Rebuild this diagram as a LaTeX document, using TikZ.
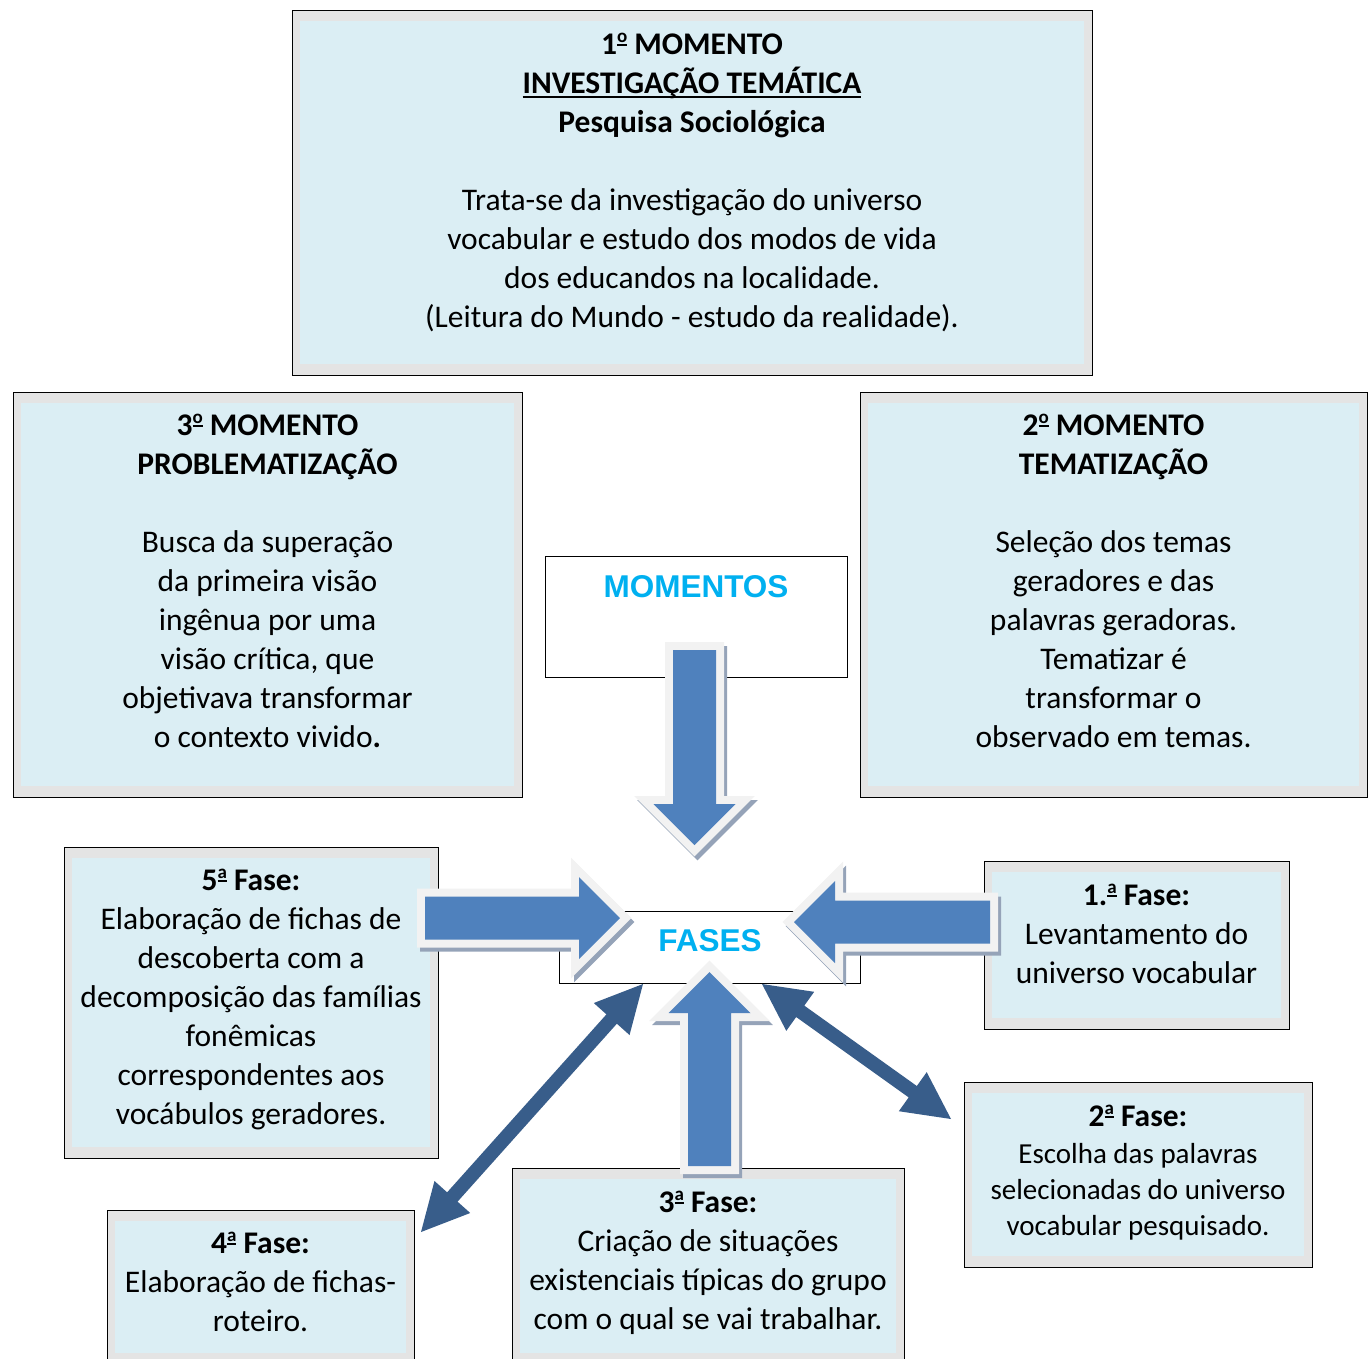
\documentclass[tikz,border=0pt]{standalone}
\usepackage{fontspec}
\setmainfont{Carlito}
\newfontfamily\headfont{Liberation Sans}
\usetikzlibrary{calc}
\usetikzlibrary{positioning}

\definecolor{bandgray}{HTML}{E4E4E4}
\definecolor{innerblue}{HTML}{DBEEF4}
\definecolor{arrowblue}{HTML}{4F81BD}
\definecolor{arrowrim}{HTML}{F2F2F2}
\definecolor{arrowshade}{HTML}{95A3B8}
\definecolor{linkblue}{HTML}{385D8A}
\definecolor{titlecyan}{HTML}{00B0F0}

\newcommand{\thickul}[1]{\setbox0\hbox{#1}\rlap{\rule[-5pt]{\wd0}{2.4pt}}\box0}
% ordinal sign with bar (a / o)
\newcommand{\ordsign}[1]{\raisebox{12pt}{\setbox2\hbox{\fontsize{19}{19}\selectfont #1}\rlap{\rule[-3.5pt]{\wd2}{1.8pt}}\box2}}

% block arrow, tail #1, tip #2
\newcommand{\blockarrow}[2]{%
  \coordinate (hb) at ($(#2)!41pt!(#1)$);
  \coordinate (p1) at ($(#1)!21.5pt!90:(#2)$);
  \coordinate (p2) at ($(hb)!21.5pt!90:(#2)$);
  \coordinate (p3) at ($(hb)!41pt!90:(#2)$);
  \coordinate (p4) at ($(hb)!41pt!-90:(#2)$);
  \coordinate (p5) at ($(hb)!21.5pt!-90:(#2)$);
  \coordinate (p6) at ($(#1)!21.5pt!-90:(#2)$);
  \foreach \sty in {arrowshadow,arrowedge,arrowfill}
    \path[\sty] (p1) -- (p2) -- (p3) -- (#2) -- (p4) -- (p5) -- (p6) -- cycle;
}

% double headed arrow between #1 and #2
\newcommand{\twowayarrow}[2]{%
  \coordinate (ha) at ($(#1)!47pt!(#2)$);
  \coordinate (hz) at ($(#2)!47pt!(#1)$);
  \fill[linkblue] (#1) -- ($(ha)!24pt!90:(#2)$) -- ($(ha)!7pt!90:(#2)$)
    -- ($(hz)!7pt!90:(#2)$) -- ($(hz)!24pt!90:(#2)$) -- (#2)
    -- ($(hz)!24pt!-90:(#2)$) -- ($(hz)!7pt!-90:(#2)$)
    -- ($(ha)!7pt!-90:(#2)$) -- ($(ha)!24pt!-90:(#2)$) -- cycle;
}

\tikzset{
  stagebox/.style={draw=black,line width=1pt,fill=bandgray,inner sep=0pt,
    path picture={\fill[innerblue] ([xshift=8pt,yshift=-11pt]path picture bounding box.north west)
      rectangle ([xshift=-8pt,yshift=11pt]path picture bounding box.south east);}},
  plainbox/.style={draw=black,line width=1pt,fill=white,inner sep=0pt},
  boxtext/.style={inner sep=0pt,align=center,font=\fontsize{31.5}{39}\selectfont},
  smalltext/.style={inner sep=0pt,align=center,font=\fontsize{29}{36}\selectfont},
  headtext/.style={inner sep=0pt,text=titlecyan,font=\headfont\bfseries\fontsize{31.5}{38}\selectfont},
  arrowshadow/.style={draw=arrowshade,fill=arrowshade,line width=16pt,line join=miter,
    transform canvas={shift={(3pt,-4pt)}}},
  arrowedge/.style={draw=arrowrim,fill=arrowrim,line width=16pt,line join=miter},
  arrowfill/.style={fill=arrowblue}
}

\begin{document}
\begin{tikzpicture}[x=1pt,y=-1pt]
\useasboundingbox (0,0) rectangle (1370,1358);
\clip (0,0) rectangle (1370,1358);

% momentos
\node[stagebox,minimum width=800pt,minimum height=365pt] (m1) at (692,192.5) {};
\node[stagebox,minimum width=509pt,minimum height=405pt] (m3) at (267.5,594.5) {};
\node[stagebox,minimum width=507pt,minimum height=405pt] (m2) at (1113.5,594.5) {};
\node[plainbox,minimum width=302pt,minimum height=121pt] (mom) at (696,616.5) {};
\node[plainbox,minimum width=301pt,minimum height=72pt] (fas) at (709.5,947) {};

% fases
\node[stagebox,minimum width=374pt,minimum height=311pt] (f5) at (251,1002.5) {};
\node[stagebox,minimum width=305pt,minimum height=168pt] (f1) at (1136.5,945) {};
\node[stagebox,minimum width=348pt,minimum height=185pt] (f2) at (1138,1174.5) {};
\node[stagebox,minimum width=307pt,minimum height=154pt] (f4) at (260.5,1287) {};
\node[stagebox,minimum width=392pt,minimum height=196pt] (f3) at (708,1266) {};

\node[boxtext,below=23pt of m1.north] (t1) {{\bfseries 1\ordsign{o} MOMENTO}\\
  {\bfseries\thickul{INVESTIGAÇÃO TEMÁTICA}}\\
  {\bfseries Pesquisa Sociológica}\\[39pt]
  Trata-se da investigação do universo\\
  vocabular e estudo dos modos de vida\\
  dos educandos na localidade.\\
  (Leitura do Mundo - estudo da realidade).};
\node[boxtext,below=22pt of m3.north] (t3) {{\bfseries 3\ordsign{o} MOMENTO}\\
  {\bfseries PROBLEMATIZAÇÃO}\\[39pt]
  Busca da superação\\ da primeira visão\\ ingênua por uma\\
  visão crítica, que\\ objetivava transformar\\ o contexto vivido{\bfseries .}};
\node[boxtext,below=22pt of m2.north] (t2) {{\bfseries 2\ordsign{o} MOMENTO}\\
  {\bfseries TEMATIZAÇÃO}\\[39pt]
  Seleção dos temas\\ geradores e das\\ palavras geradoras.\\
  Tematizar é\\ transformar o\\ observado em temas.};

\node[headtext] (lbl-mom) at (696,587) {MOMENTOS};
\node[headtext] (lbl-fas) at (710,941) {FASES};

\node[boxtext,below=22pt of f5.north] (t5) {{\bfseries 5\ordsign{a} Fase:}\\
  Elaboração de fichas de\\ descoberta com a\\ decomposição das famílias\\
  fonêmicas\\ correspondentes aos\\ vocábulos geradores.};
\node[boxtext,below=23pt of f1.north] (tf1) {{\bfseries 1.\ordsign{a} Fase:}\\
  Levantamento do\\ universo vocabular};
\node[boxtext,below=23pt of f2.north] (tf2) {\bfseries 2\ordsign{a} Fase:};
\node[smalltext,below=17pt of tf2.south] (tf2b) {Escolha das palavras\\
  selecionadas do universo\\ vocabular pesquisado.};
\node[boxtext,below=22pt of f4.north] (tf4) {{\bfseries 4\ordsign{a} Fase:}\\
  Elaboração de fichas-\\ roteiro.};
\node[boxtext,below=23pt of f3.north] (tf3) {{\bfseries 3\ordsign{a} Fase:}\\
  Criação de situações\\ existenciais típicas do grupo\\ com o qual se vai trabalhar.};

% setas
\coordinate (down-a) at (694.5,650);
\coordinate (down-b) at (694.5,845);
\coordinate (right-a) at (425,918);
\coordinate (right-b) at (620,918);
\coordinate (left-a) at (990,922);
\coordinate (left-b) at (794,922);
\coordinate (up-a) at (709.5,1166);
\coordinate (up-b) at (709.5,972);
\blockarrow{down-a}{down-b}
\blockarrow{right-a}{right-b}
\blockarrow{left-a}{left-b}
\blockarrow{up-a}{up-b}

\coordinate (dl-a) at (643,984);
\coordinate (dl-b) at (421,1232);
\coordinate (dr-a) at (762,984);
\coordinate (dr-b) at (951,1119);
\twowayarrow{dl-a}{dl-b}
\twowayarrow{dr-a}{dr-b}
\end{tikzpicture}
\end{document}
